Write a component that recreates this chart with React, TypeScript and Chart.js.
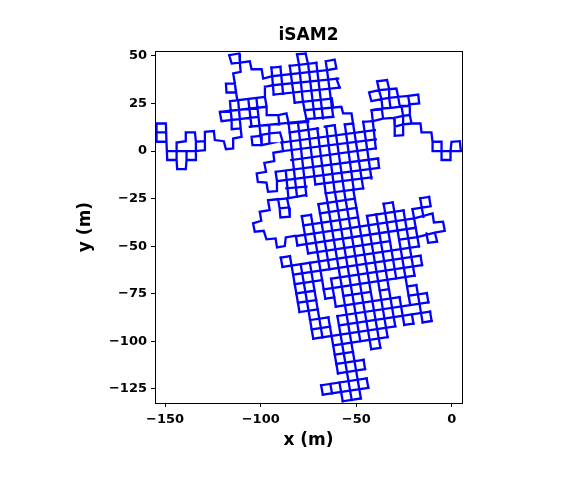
import React, { useEffect, useRef } from "react";
import { Chart, registerables } from "chart.js";

Chart.register(...registerables);

const TITLE = "iSAM2";
const X_LABEL = "x (m)";
const Y_LABEL = "y (m)";
const xTicks = [-150, -100, -50, 0];
const yTicks = [50, 25, 0, -25, -50, -75, -100, -125];

// each stroke: x, y, x, y ... in metres
const startWing = [
  [4.7,0, 4.2,5.2, -0.2,4.9, -0.7,0, 4.7,0],
  [-0.7,0, -0.7,-4.7, -5.4,-4.7, -5.4,4.9, -10.1,4.9, -10.1,0, -0.7,0],
  [-10.1,4.9, -10.7,9.8, -15.9,9.8, -16.4,14.5, -21.1,14.5, -22,18.9, -25.5,18.5, -25.5,14, -21.1,14.5],
  [-25.5,18.5, -26.4,23.8, -22,23.8, -22,18.9],
  [-28.1,28.5, -22.9,29, -22,23.8, -27.2,23.3, -28.1,28.5],
  [-22.9,29, -17.6,29.7, -17.1,25, -22.4,24.5],
  [-28.1,28.5, -29,32.9, -32.8,32.5, -33.9,37.3, -39.1,36.7, -38.1,32, -43.3,30.8, -42.1,26.2, -36.8,27.3, -32.8,28, -28.1,28.5],
  [-38.1,32, -36.8,27.3, -36.3,22.4, -32.1,22.7, -32.8,28, -32.8,32.5],
  [-33.9,37.3, -32.8,32.5, -38.1,32],
  [-36.3,22.4, -42,21.5],
  [-42,21.5, -36.6,22, -36,17.1, -30.2,17.5, -25.5,18.5],
  [-30.2,17.5, -29.9,12.8, -25.5,14],
  [-29.9,12.8, -29.9,8, -25.5,8.4, -25.5,14],
  [-41.2,15.7, -36,17.1],
  [-32.1,22.7, -27.2,23.3],
];

const leftWing = [
  [-154.5,14.5, -149.6,14.5, -149.3,4.9, -154.5,4.9, -154.5,14.5],
  [-154.5,9.8, -149.5,9.8],
  [-149.3,4.9, -148.9,-4.7, -144,-4.7, -143.7,-9.5, -139.2,-9.5, -138.8,-4.7, -133.9,-4.7, -133.9,0, -148.9,0],
  [-144,-4.7, -144,4.5, -139.2,5.2, -139.2,9.8, -134.4,9.8, -133.9,4.9, -129.2,5.2, -129.2,0.5, -133.9,0, -133.9,4.9],
  [-138.8,-4.7, -138.8,0],
  [-129.2,5.2, -129.2,10.1, -124.5,10.5, -124,5.8, -119.3,5.2, -118.2,1, -114.4,1.4, -114.4,6.6, -110,7.5, -110.5,11.9, -115.2,11.5, -115.2,16.3],
  [-116.1,26.2, -97.8,28.5],
  [-121.4,20.6, -96.9,23.3],
  [-120.5,15.7, -101.3,18],
  [-105.7,12.8, -75.2,15.9],
  [-96.9,18.9, -90.8,18.9, -86.5,19.8, -85.6,15.4],
  [-90.8,18.9, -90.3,14],
  [-100.4,8.4, -95.2,9.3, -89.9,9.8, -88.5,4.9],
  [-104.8,7.5, -99.5,8, -99.5,3.1, -104.3,3.1, -104.8,7.5],
  [-99.5,3.1, -95.2,4, -95.5,13.7],
  [-116.1,26.2, -115.2,16.3],
  [-111.8,26.8, -110.5,11.9],
  [-106.5,27.3, -104.8,12.8],
  [-102.2,27.3, -99.5,3.1],
  [-97.8,28.5, -96.9,23.3, -96.9,18.9],
  [-121.4,20.6, -120.5,15.7],
  [-112.3,26.8, -113.5,35.5, -118.2,35.5, -117.9,30.8, -113,30.8, -113.5,35.5],
  [-113.5,35.5, -114.4,40.8, -110.5,41.6, -110.9,46.5, -115.2,46, -116.5,50.4, -111.2,51.3, -110.9,46.5, -105.7,47.2, -104.8,43, -99.5,43, -98.7,38.1, -93.9,39.4],
  [-97.8,33.8, -93.6,34.6],
  [-97.8,33.8, -97.8,28.5],
];

const topBlockRows = [
  [-84.8,44.8, -70.9,46.4],
  [-81,50.9, -76.5,51.2],
  [-66,47.2, -61.3,48.1, -60.4,43.4, -65.3,42.5, -66,47.2],
  [-94.4,43.9, -89.7,44.3],
  [-93.9,39.4, -65.3,42.5],
  [-93.6,34.6, -59.5,38.1],
  [-93.2,29.7, -58.7,33.4],
  [-82.2,25.4, -63,27.6],
  [-77,21.5, -57.8,23.3, -56.9,19.8, -52.5,19.8, -51.7,14.5],
  [-76.1,16.8, -62.1,18],
];

const topBlockCols = [
  [-94.4,43.9, -93.2,29.7],
  [-89.7,44.3, -88.3,30.2],
  [-84.8,44.8, -82.2,25.4],
  [-81,50.9, -80,45.7, -77.9,25.9, -76.1,16.8],
  [-76.5,51.2, -75.2,45.7, -71.7,17.1],
  [-70.9,46.4, -67.4,17.1],
  [-65.3,42.5, -62.1,18],
  [-60.4,38.1, -58.7,33.4],
  [-62.8,27.6, -62.1,23],
];

const middleRows = [
  [-85.7,14.5, -75.2,15.4],
  [-84.8,9.8, -70,11.9],
  [-66.5,12.8, -61.3,13.6],
  [-56,14, -51.7,14.5],
  [-46.4,15.4, -41.2,15.7],
  [-89.2,4.5, -40.3,11],
  [-88.3,0, -39.8,6.1],
  [-84,-4.7, -39.8,1.4],
  [-92.2,-10.9, -38.6,-3.9],
  [-91.5,-15.8, -38.1,-8.8],
  [-86.6,-19.6, -76.1,-18.7],
  [-71.4,-17.5, -42.1,-13.8],
  [-86.2,-24.9, -76.5,-23.1],
  [-88.3,0, -93.4,-0.9, -92.9,-5.3, -98.1,-6.2, -97.2,-10.9, -102.1,-11.7, -101.5,-16.2, -97,-16.6, -96.2,-21.4, -91.9,-21, -91.5,-15.8],
  [-92.2,-10.9, -91.5,-15.8],
];

const middleCols = [
  [-88.9,4.5, -88.3,0],
  [-86.9,-10.5, -85.5,-24.5],
  [-85.4,14.5, -81,-24],
  [-80.5,15, -76.1,-23.5],
  [-75.6,15.4, -71.4,-17.5],
  [-70.4,11.9, -66,-22.2],
  [-65.7,12.8, -61.3,-21.4],
  [-61.3,13.6, -56.4,-20.8],
  [-56,14, -51.3,-20.5],
  [-51.7,14.5, -46.4,-19.6],
  [-46.4,15.4, -42.1,-14.4],
  [-42,21.5, -39.8,1.4],
  [-38.6,-3.9, -38.1,-8.8],
  [-42,21.5, -37,22],
];

const lowerWing = [
  [-82.2,-44.6, -86.9,-45.4, -87.4,-49.9, -91.5,-50.6, -92.2,-45.9, -97,-46.4, -98.4,-41.9, -103.1,-42.4, -104,-38, -99.7,-36.6, -100.5,-31.9, -95.3,-31, -96.2,-25.8, -90.9,-25.2, -90.1,-30.1, -85.2,-29.6, -84.8,-34.5, -89.7,-34.9, -90.1,-30.1],
  [-85.2,-29.6, -86.2,-24.9],
  [-96.2,-25.8, -86.2,-24.9],
];

const lowerRows = [
  [-65.9,-22.2, -46.4,-19.6],
  [-69.8,-27.9, -50.7,-25],
  [-78.5,-34.2, -73.7,-33.5],
  [-69,-32.8, -49.9,-29.9],
  [-77.7,-39.1, -49.1,-34.8],
  [-44.4,-34.1, -25.3,-31.2],
  [-20.6,-30.5, -15.8,-29.7],
  [-35.7,-27.7, -30.9,-27],
  [-16.6,-24.8, -11.9,-24.1],
  [-81.6,-44.7, -19.7,-35.4, -10.1,-32.8, -9.4,-37.5, -4.6,-37.1, -3.7,-41.9, -8.9,-42.9, -18.1,-45.2],
  [-13.3,-43.3, -12.4,-48.2, -7.7,-47.6, -8.9,-42.9],
  [-80.8,-49.6, -18.9,-40.3],
  [-75.2,-53.8, -32.4,-47.3],
  [-27.6,-46.6, -18.1,-45.2],
  [-89.5,-56, -84.7,-55.2],
  [-88.6,-60.9, -17.2,-50.1],
  [-83,-65, -16.4,-55],
  [-82.2,-69.9, -67.9,-67.8],
  [-63.2,-67.1, -15.6,-59.9],
  [-81.4,-74.8, -71.9,-73.4],
  [-67.1,-72.7, -19.5,-65.5],
  [-80.5,-79.7, -71,-78.3],
  [-66.2,-77.6, -61.5,-76.9],
  [-56.7,-76.1, -42.4,-74],
  [-37.7,-73.3, -32.9,-72.5],
  [-23.4,-71.1, -18.6,-70.4],
  [-79.7,-84.6, -70.2,-83.2],
  [-60.7,-81.8, -27.4,-76.7],
  [-22.6,-76, -13.1,-74.6],
  [-74.2,-88.8, -64.6,-87.4],
  [-59.9,-86.7, -12.3,-79.5],
  [-73.3,-93.7, -63.7,-92.3],
  [-59,-91.6, -11.4,-84.4],
  [-72.5,-98.6, -29.6,-92.1],
  [-24.9,-91.4, -20.1,-90.7],
  [-15.3,-90, -10.6,-89.3],
  [-62.1,-102.1, -33.6,-97.8],
  [-61.2,-107, -51.7,-105.5],
  [-42.2,-104.1, -37.4,-103.4],
  [-60.4,-111.9, -46.2,-109.7],
  [-59.6,-116.8, -45.4,-114.6],
  [-68.4,-123.1, -44.6,-119.5],
  [-67.5,-128, -43.7,-124.4],
  [-57.1,-131.5, -47.6,-130],
];

const lowerCols = [
  [-89.5,-56, -88.6,-60.9],
  [-84.7,-55.2, -79.7,-84.6],
  [-81.6,-44.7, -80.8,-49.6],
  [-79.1,-59.4, -72.5,-98.6],
  [-78.5,-34.2, -75.2,-53.8],
  [-74.3,-58.7, -67.7,-97.9],
  [-73.7,-33.5, -66.2,-77.6],
  [-64.6,-87.4, -59.6,-116.8],
  [-58.8,-121.7, -57.1,-131.5],
  [-63.6,-122.4, -62.7,-127.3],
  [-68.4,-123.1, -67.5,-128],
  [-69.8,-27.9, -64,-62.2],
  [-63.2,-67.1, -60.7,-81.8],
  [-59.9,-86.7, -52.4,-130.8],
  [-65.9,-22.2, -47.6,-130],
  [-61.2,-21.5, -47.9,-99.9],
  [-46.2,-109.7, -45.4,-114.6],
  [-44.6,-119.5, -43.7,-124.4],
  [-56.4,-20.8, -42.2,-104.1],
  [-51.6,-20.1, -37.4,-103.4],
  [-44.4,-34.1, -33.6,-97.8],
  [-39.6,-33.3, -29.6,-92.1],
  [-35.7,-27.7, -29.1,-66.9],
  [-27.4,-76.7, -24.9,-91.4],
  [-30.9,-27, -24.3,-66.2],
  [-24.3,-66.2, -21.8,-80.9],
  [-20.9,-85.8, -20.1,-90.7],
  [-25.3,-31.2, -19.5,-65.5],
  [-18.6,-70.4, -15.3,-90],
  [-20.6,-30.5, -17.2,-50.1],
  [-16.4,-55, -15.6,-59.9],
  [-13.1,-74.6, -12.3,-79.5],
  [-11.4,-84.4, -10.6,-89.3],
  [-16.6,-24.8, -14.9,-34.6],
  [-11.9,-24.1, -11.1,-29],
  [-15.8,-29.7, -11.1,-29],
];

const strokeGroups = [startWing, leftWing, topBlockRows, topBlockCols, middleRows, middleCols, lowerWing, lowerRows, lowerCols];

function toPoints(group: number[][]) {
  const pts: ({ x: number; y: number } | { x: null; y: null })[] = [];
  group.forEach((s) => {
    for (let i = 0; i < s.length; i += 2) pts.push({ x: s[i], y: s[i + 1] });
    pts.push({ x: null, y: null });
  });
  return pts;
}

const FONT = "'DejaVu Sans'";
const PLOT = { left: 155, right: 462, top: 51, bottom: 403 };
const fmt = (v: number) => String(v).replace("-", "\u2212");

export default function App() {
  const ref = useRef<HTMLCanvasElement>(null);
  useEffect(() => {
    const frame = {
      id: "frame",
      afterDraw(c: any) {
        const a = c.chartArea;
        const g = c.ctx;
        g.save();
        g.strokeStyle = "#000";
        g.lineWidth = 1;
        g.strokeRect(Math.round(a.left) + 0.5, Math.round(a.top) + 0.5, Math.round(a.right - a.left), Math.round(a.bottom - a.top));
        g.restore();
      },
    };
    const chart = new Chart(ref.current as HTMLCanvasElement, {
      type: "scatter",
      data: {
        datasets: strokeGroups.map((g) => ({
          data: toPoints(g) as any,
          showLine: true,
          spanGaps: false,
          borderColor: "#0000ff",
          backgroundColor: "#0000ff",
          borderWidth: 2.3,
          pointRadius: 0,
          borderCapStyle: "square" as const,
          borderJoinStyle: "miter" as const,
        })),
      },
      options: {
        animation: false,
        responsive: false,
        layout: { padding: { left: 75, right: 574 - PLOT.right, top: 0, bottom: 34 } },
        plugins: {
          legend: { display: false },
          tooltip: { enabled: false },
          title: {
            display: true,
            text: TITLE,
            fullSize: false,
            color: "#000",
            font: { family: FONT, size: 17, weight: "bold" },
            padding: { top: 25, bottom: 5.6 },
          },
        },
        scales: {
          x: {
            type: "linear",
            min: -155.3,
            max: 5.3,
            afterBuildTicks: (s: any) => { s.ticks = xTicks.map((v) => ({ value: v })); },
            afterFit: (s: any) => { s.height = 451 - PLOT.bottom; },
            ticks: { color: "#000", font: { family: FONT, size: 13, weight: "bold" }, maxRotation: 0, padding: 5, callback: (v: any) => fmt(v) },
            grid: { drawOnChartArea: false, tickLength: 4, tickColor: "#000" },
            border: { color: "#000" },
            title: { display: true, text: X_LABEL, color: "#000", font: { family: FONT, size: 17, weight: "bold" }, padding: { top: 0, bottom: 0 } },
          },
          y: {
            type: "linear",
            min: -132.4,
            max: 52.6,
            afterBuildTicks: (s: any) => { s.ticks = yTicks.map((v) => ({ value: v })); },
            afterFit: (s: any) => { s.width = PLOT.left - 75; },
            ticks: { color: "#000", font: { family: FONT, size: 13, weight: "bold" }, padding: 4, callback: (v: any) => fmt(v) },
            grid: { drawOnChartArea: false, tickLength: 4, tickColor: "#000" },
            border: { color: "#000" },
            title: { display: true, text: Y_LABEL, color: "#000", font: { family: FONT, size: 17, weight: "bold" }, padding: { top: 0, bottom: 0 } },
          },
        },
      },
      plugins: [frame],
    } as any);
    return () => chart.destroy();
  }, []);
  return (
    <div style={{ position: "fixed", left: 0, top: 0, width: 574, height: 485 }}>
      <canvas ref={ref} width={574} height={485} style={{ display: "block" }} />
    </div>
  );
}
